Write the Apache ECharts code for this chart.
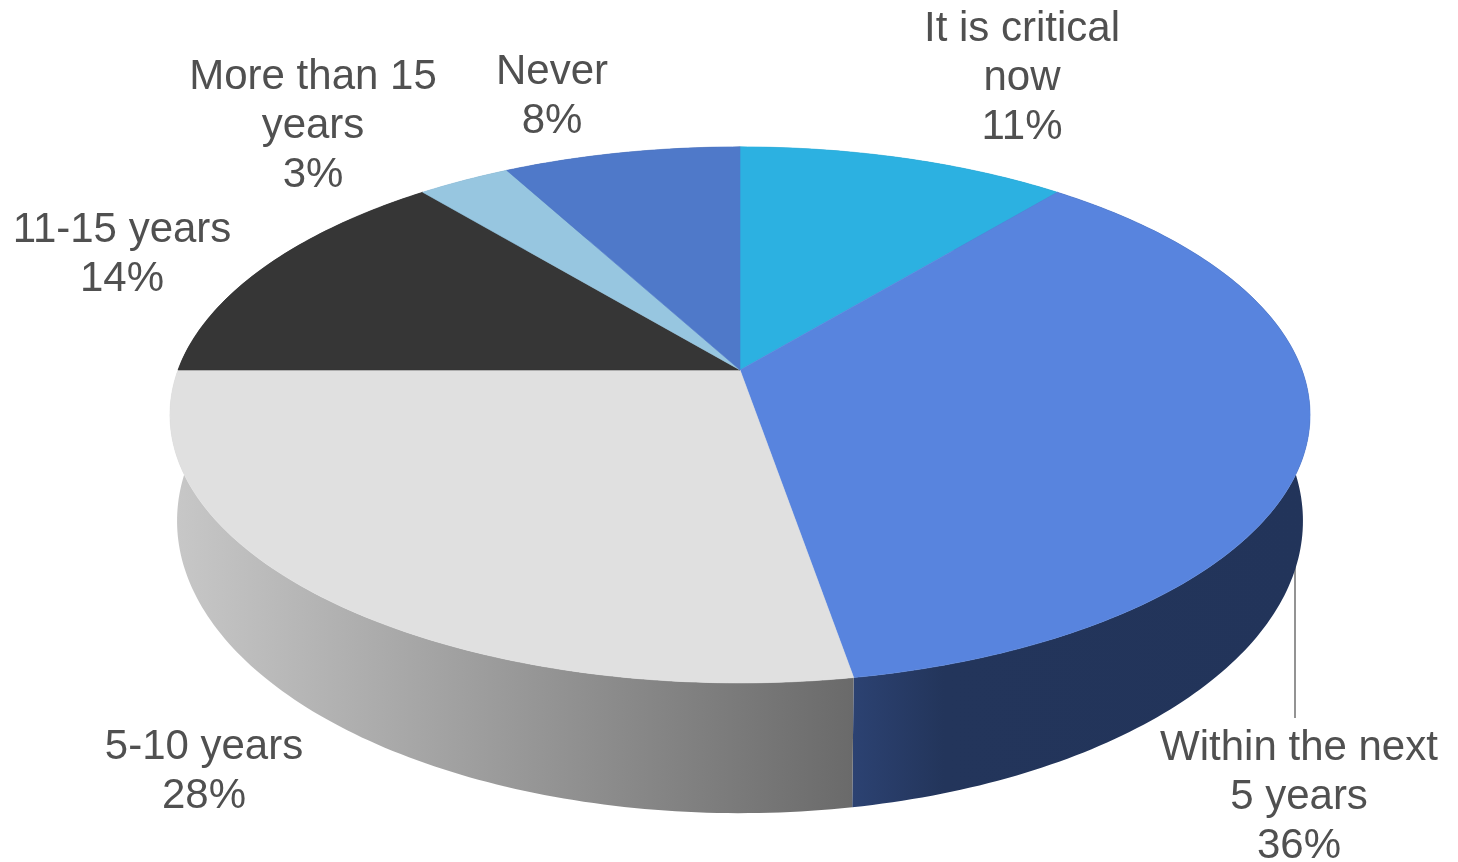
<!DOCTYPE html>
<html>
<head>
<meta charset="utf-8">
<style>
  html, body { margin: 0; padding: 0; background: #ffffff; }
  #chart { width: 1458px; height: 862px; }
</style>
<script src="https://cdn.jsdelivr.net/npm/echarts@6/dist/echarts.min.js"></script>
</head>
<body>
<div id="chart"></div>
<script>
// ---- data ----
const categories = ['It is critical now', 'Within the next 5 years', '5-10 years', '11-15 years', 'More than 15 years', 'Never'];
const labelNames = ['It is critical\nnow', 'Within the next\n5 years', '5-10 years', '11-15 years', 'More than 15\nyears', 'Never'];
const values = [11, 36.3, 27.7, 14, 3.1, 7.9];

// ---- styles ----
const topColors = ['#2cb1e1', '#5884de', '#e0e0e0', '#363636', '#97c6e0', '#4f79c9'];
const wallStops = [
  [[0, '#1f7fa3'], [1, '#1a6f90']],
  [[0, '#2c4272'], [0.2, '#23355b'], [1, '#22345a']],
  [[0, '#c8c8c8'], [1, '#6a6a6a']],
  [[0, '#262626'], [1, '#1e1e1e']],
  [[0, '#6f98b0'], [1, '#5f889f']],
  [[0, '#334f87'], [1, '#2b4576']]
];
const labelLayout = [
  { x: 1022, y: 78 },
  { x: 1299, y: 797 },
  { x: 204, y: 772 },
  { x: 122, y: 255 },
  { x: 313, y: 126 },
  { x: 552, y: 97 }
];

// ---- perspective ellipse geometry of the 3D pie (top face and bottom rim) ----
const CX = 740, K = 0.1675;
const TOP = { cy: 370, b: 562, a: 260.5 };
const BOTTOM = { cy: 472, b: 555, a: 284 };
function proj(theta, face) {
  const s = Math.sin(theta), c = Math.cos(theta), den = 1 + K * c;
  return [CX + face.b * s / den, face.cy - face.a * c / den];
}

const total = values.reduce((a, b) => a + b, 0);
const starts = [];
values.reduce((acc, v) => { starts.push(acc); return acc + v; }, 0);
const sliceData = values.map((v, i) => ({ name: categories[i], value: [starts[i], v] }));

function angles(api) {
  const s = api.value(0), v = api.value(1);
  return [s / total * Math.PI * 2, (s + v) / total * Math.PI * 2, v];
}

function renderWall(params, api) {
  const [a0, a1, v] = angles(api);
  const n = Math.max(10, Math.ceil(v * 4));
  const quads = [];
  for (let i = 0; i < n; i++) {
    const t0 = a0 + (a1 - a0) * i / n, t1 = a0 + (a1 - a0) * (i + 1) / n;
    quads.push({ type: 'polygon', shape: { points: [proj(t0, TOP), proj(t1, TOP), proj(t1, BOTTOM), proj(t0, BOTTOM)] } });
  }
  const grad = new echarts.graphic.LinearGradient(0, 0, 1, 0,
    wallStops[params.dataIndex].map(s => ({ offset: s[0], color: s[1] })));
  return { type: 'compoundPath', shape: { paths: quads }, style: { fill: grad } };
}

function renderTop(params, api) {
  const [a0, a1, v] = angles(api);
  const n = Math.max(10, Math.ceil(v * 4));
  const pts = [[CX, TOP.cy]];
  for (let i = 0; i <= n; i++) pts.push(proj(a0 + (a1 - a0) * i / n, TOP));
  const c = topColors[params.dataIndex];
  return { type: 'polygon', shape: { points: pts }, style: { fill: c, stroke: c, lineWidth: 0.6 } };
}

const chart = echarts.init(document.getElementById('chart'), null, { renderer: 'canvas' });
const textStyleBase = {
  fill: '#505050',
  font: '42px "Liberation Sans", Arial, sans-serif',
  align: 'center',
  verticalAlign: 'middle',
  lineHeight: 49
};
chart.setOption({
  animation: false,
  backgroundColor: '#ffffff',
  series: [
    { type: 'custom', coordinateSystem: 'none', renderItem: renderWall, data: sliceData, z: 1, silent: true },
    { type: 'custom', coordinateSystem: 'none', renderItem: renderTop, data: sliceData, z: 2, silent: true }
  ],
  graphic: [
    { type: 'line', shape: { x1: 1295, y1: 556, x2: 1295, y2: 718 }, style: { stroke: '#595959', lineWidth: 1.3 }, z: 0 }
  ].concat(labelNames.map((n, i) => ({
    type: 'text',
    x: labelLayout[i].x,
    y: labelLayout[i].y,
    z: 5,
    style: Object.assign({ text: n + '\n' + Math.round(values[i]) + '%' }, textStyleBase)
  })))
});
</script>
</body>
</html>
